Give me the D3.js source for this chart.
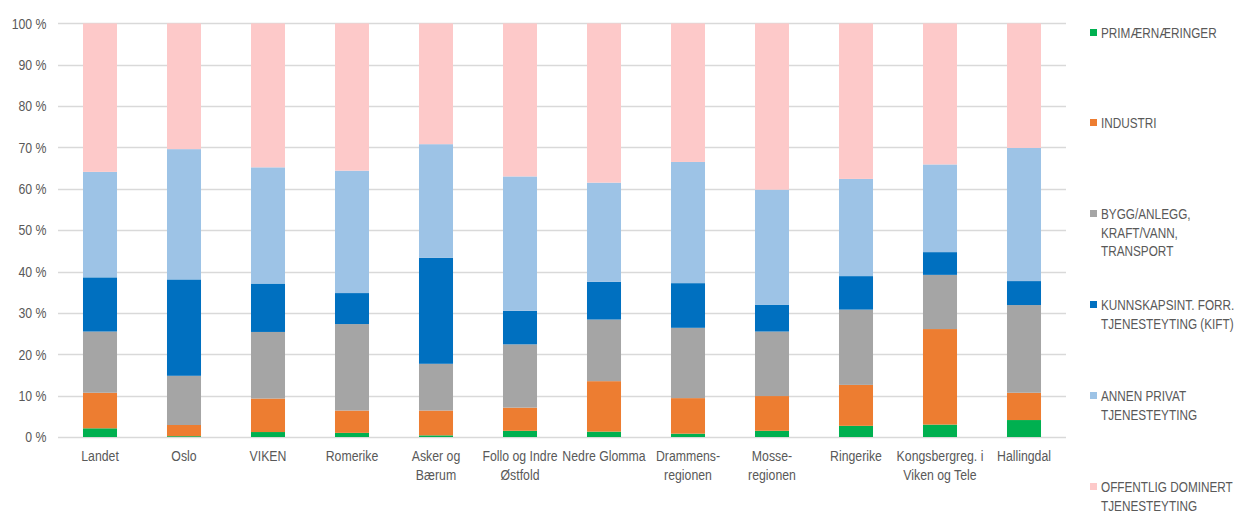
<!DOCTYPE html>
<html><head><meta charset="utf-8">
<script src="https://cdn.jsdelivr.net/npm/d3@7"></script>
<style>
body{margin:0;background:#fff;}
svg text{font-family:"Liberation Sans",Arial,sans-serif;fill:#595959;}
</style></head>
<body><svg id="c" width="1238" height="514"></svg>
<script>
const categories = ["Landet","Oslo","VIKEN","Romerike","Asker og\nBærum","Follo og Indre\nØstfold","Nedre Glomma","Drammens-\nregionen","Mosse-\nregionen","Ringerike","Kongsbergreg. i\nViken og Tele","Hallingdal"];
const seriesNames = ["PRIMÆRNÆRINGER","INDUSTRI","BYGG/ANLEGG,\nKRAFT/VANN,\nTRANSPORT","KUNNSKAPSINT. FORR.\nTJENESTEYTING (KIFT)","ANNEN PRIVAT\nTJENESTEYTING","OFFENTLIG DOMINERT\nTJENESTEYTING"];
const primaer   = [2.1, 0.2, 1.2, 1.0, 0.4, 1.5, 1.3, 0.8, 1.5, 2.7, 3.0, 4.1];
const industri  = [8.6, 2.7, 8.1, 5.4, 6.0, 5.6, 12.2, 8.6, 8.4, 9.9, 23.1, 6.6];
const bygg      = [14.8, 11.9, 16.1, 20.9, 11.3, 15.3, 14.9, 17.0, 15.6, 18.2, 13.1, 21.2];
const kift      = [13.1, 23.3, 11.7, 7.5, 25.6, 8.1, 9.1, 10.8, 6.5, 8.1, 5.5, 5.8];
const annen     = [25.5, 31.5, 28.1, 29.6, 27.5, 32.5, 24.0, 29.3, 27.8, 23.5, 21.2, 32.2];
const offentlig = [35.9, 30.4, 34.8, 35.6, 29.2, 37.0, 38.5, 33.5, 40.2, 37.6, 34.1, 30.1];
const yTicks = [0,10,20,30,40,50,60,70,80,90,100];
const colors = ["#00B050","#ED7D31","#A5A5A5","#0070C0","#9DC3E6","#FDC9C9"];

const seriesVals = [primaer, industri, bygg, kift, annen, offentlig];
const keys = ["s0","s1","s2","s3","s4","s5"];
const rows = categories.map((c,i)=>{const r={cat:c}; keys.forEach((k,j)=>r[k]=seriesVals[j][i]); return r;});
const stack = d3.stack().keys(keys).offset(d3.stackOffsetExpand)(rows);

const SX = 0.82; // narrow font emulation
const SXL = 0.785;
const svg = d3.select("#c");
const x = d3.scaleBand().domain(categories).range([58,1066]).paddingInner(0.595).paddingOuter(0.2975);
const y = d3.scaleLinear().domain([0,1]).range([437,23.4]);

// grid
svg.append("g").selectAll("line").data(yTicks).join("line")
  .attr("x1",58).attr("x2",1066)
  .attr("y1",d=>Math.round(y(d/100))+0.5).attr("y2",d=>Math.round(y(d/100))+0.5)
  .attr("stroke","#D9D9D9").attr("stroke-width",1.3);

// y labels
svg.append("g").selectAll("text").data(yTicks).join("text")
  .attr("transform",d=>`translate(46.5,${y(d/100)}) scale(${SX},1)`).attr("dy","0.35em")
  .attr("text-anchor","end").attr("font-size",15).text(d=>d+" %");

// bars
svg.append("g").selectAll("g").data(stack).join("g")
  .attr("fill",(d,i)=>colors[i])
  .selectAll("rect").data(d=>d).join("rect")
  .attr("x",d=>x(d.data.cat)).attr("width",x.bandwidth())
  .attr("y",d=>y(d[1])).attr("height",d=>Math.max(0,y(d[0])-y(d[1])));

// x labels
const xl = svg.append("g").selectAll("text").data(categories).join("text")
  .attr("text-anchor","middle").attr("font-size",15)
  .attr("transform",d=>`translate(${x(d)+x.bandwidth()/2},461) scale(${SX},1)`);
xl.selectAll("tspan").data(d=>d.split("\n")).join("tspan")
  .attr("x",0).attr("dy",(d,i)=>i===0?0:19).text(d=>d);

// legend
const legY = [33,123,214,305,396,487];
const lg = svg.append("g").selectAll("g").data(seriesNames).join("g")
  .attr("transform",(d,i)=>`translate(1090,${legY[i]})`);
lg.append("rect").attr("x",0).attr("y",-4).attr("width",7).attr("height",7).attr("fill",(d,i)=>colors[i]);
const lt = lg.append("text").attr("transform",`translate(11,0) scale(${SXL},1)`).attr("font-size",15);
lt.selectAll("tspan").data(d=>d.split("\n")).join("tspan")
  .attr("x",0).attr("dy",(d,i)=>i===0?"0.35em":18.5).text(d=>d);
</script></body></html>
